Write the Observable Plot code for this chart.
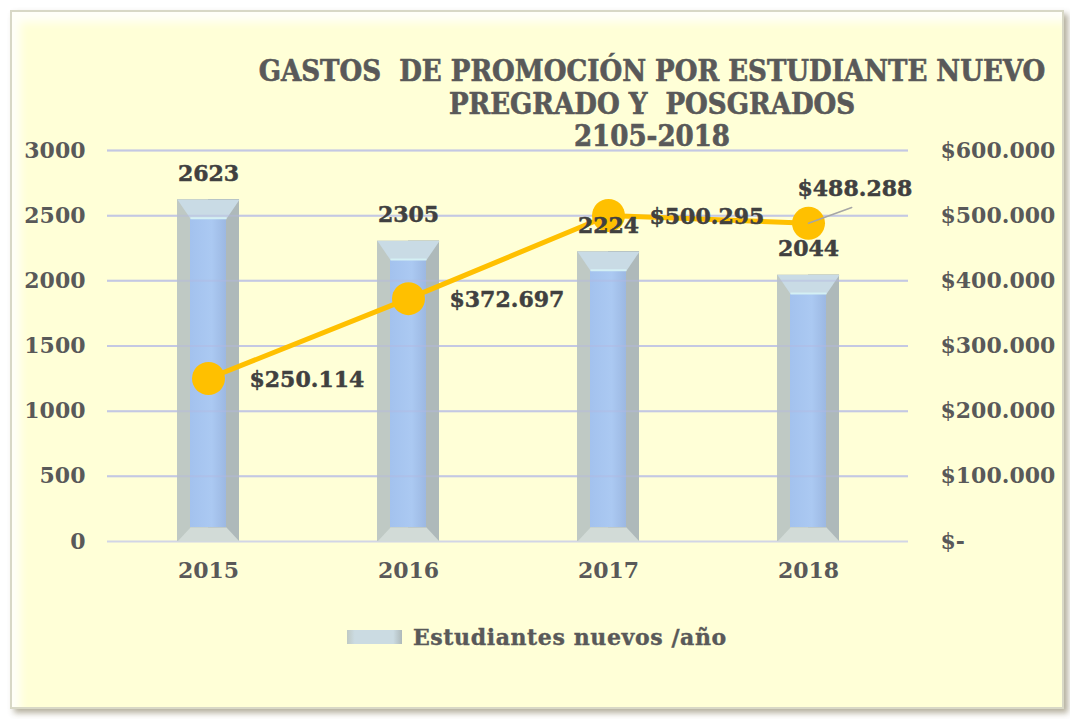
<!DOCTYPE html>
<html>
<head>
<meta charset="utf-8">
<script src="https://cdn.jsdelivr.net/npm/d3@7"></script>
<script src="https://cdn.jsdelivr.net/npm/@observablehq/plot@0.6"></script>
<style>
  html, body { margin: 0; padding: 0; background: #ffffff; }
  #page { position: relative; width: 1070px; height: 719px; overflow: hidden; }
  #frame {
    position: absolute; left: 10px; top: 10px; width: 1050px; height: 695px;
    background: #FFFFD7; border: 2px solid #D8D8C6;
    box-shadow: 4px 4px 6px rgba(90,80,40,0.45), inset 8px 10px 10px rgba(255,255,255,0.85);
  }
  #title {
    position: absolute; left: 252px; top: 55px; width: 800px; text-align: center;
    font-family: "DejaVu Serif Condensed", "DejaVu Serif", serif; font-stretch: condensed;
    font-weight: bold; font-size: 29px; line-height: 32.5px; color: #595959;
    -webkit-text-stroke: 0.6px #595959;
  }
  #chart { position: absolute; left: 0; top: 110px; }
  #legend-swatch {
    position: absolute; left: 347px; top: 630px; width: 55px; height: 14px;
    background: linear-gradient(to right, #BFC9C4 0, #CBDBE2 14%, #CBDBE2 84%, #AEB9BA 100%);
  }
  #legend-text {
    position: absolute; left: 413px; top: 625px;
    font-family: "DejaVu Serif", serif; font-weight: bold; font-size: 22px; line-height: 24px; color: #595959;
    letter-spacing: 0.6px; -webkit-text-stroke: 0.4px #595959;
  }
</style>
</head>
<body>
<div id="page">
  <div id="frame"></div>
  <div id="title">GASTOS&nbsp; DE PROMOCIÓN POR ESTUDIANTE NUEVO<br>PREGRADO Y&nbsp; POSGRADOS<br>2105-2018</div>
  <div id="chart"></div>
  <div id="legend-swatch"></div>
  <div id="legend-text">Estudiantes nuevos /año</div>
</div>
<script>
const years = ["2015", "2016", "2017", "2018"];
const students = [2623, 2305, 2224, 2044];
const costs = [250114, 372697, 500295, 488288];
const leftTicks = [0, 500, 1000, 1500, 2000, 2500, 3000];
const leftMax = 3000;
const rightMax = 600000;
const ratio = rightMax / leftMax;

const data = years.map((year, i) => ({
  year, students: students[i], cost: costs[i], costY: costs[i] / ratio
}));

const money = v => v === 0 ? "$-" : "$" + d3.format(",")(v).replace(/,/g, ".");

// decorative shapes (pixel geometry of the bevel, relative to the anchor point)
const leader = {
  draw(context, l) { context.moveTo(0, 0); context.lineTo(0, -l); }
};
const topBevel = {
  draw(c) { c.moveTo(-31, 0); c.lineTo(31, 0); c.lineTo(18, 19); c.lineTo(-18, 19); c.closePath(); }
};
const topEdge = {
  draw(c) { c.moveTo(-18, 18.5); c.lineTo(18, 18.5); }
};
const bottomBevel = {
  draw(c) { c.moveTo(-31, 0); c.lineTo(31, 0); c.lineTo(18, -14); c.lineTo(-18, -14); c.closePath(); }
};

const heavyLabel = {stroke: "#404040", strokeWidth: 0.5, paintOrder: "fill"};
const heavyAxis = {stroke: "#595959", strokeWidth: 0.5, paintOrder: "fill"};

const chart = Plot.plot({
  width: 1070, height: 490,
  marginTop: 40, marginBottom: 59, marginLeft: 107, marginRight: 162,
  style: {background: "transparent", fontFamily: "DejaVu Serif, serif", fontWeight: "bold", fontSize: "22px", color: "#595959", overflow: "visible"},
  x: {domain: years, paddingInner: 0.69, paddingOuter: 0.345, axis: null},
  y: {domain: [0, leftMax], axis: null},
  marks: [
    Plot.ruleY(leftTicks, {stroke: "#D2D5E6", strokeWidth: 2}),
    // beveled bars
    Plot.barY(data, {x: "year", y: "students", fill: "#BFC9C4"}),
    Plot.barY(data, {x: "year", y: "students", fill: "#AEB9BA", insetLeft: 31}),
    Plot.barY(data, {x: "year", y: "students", fill: "url(#faceGrad)", insetLeft: 13, insetRight: 13, insetTop: 19, insetBottom: 14}),
    Plot.vector(data, {x: "year", y: "students", length: 1, anchor: "start", shape: topBevel, fill: "#C9DBE5", stroke: "none"}),
    Plot.vector(data, {x: "year", y: "students", length: 1, anchor: "start", shape: topEdge, stroke: "#D4F0F4", strokeWidth: 2, strokeLinecap: "butt"}),
    Plot.vector(data, {x: "year", y: 0, length: 1, anchor: "start", shape: bottomBevel, fill: "#D2DBD7", stroke: "none"}),
    Plot.ruleY(leftTicks.slice(1), {stroke: "#B4B8E0", strokeWidth: 2, strokeOpacity: 0.45}),
    // cost line
    Plot.line(data, {x: "year", y: "costY", stroke: "#FFC000", strokeWidth: 5}),
    Plot.dot(data, {x: "year", y: "costY", r: 16.5, fill: "#FFC000", stroke: "none"}),
    Plot.vector(data.slice(3), {x: "year", y: "costY", length: 46, rotate: 70, anchor: "start", shape: leader, stroke: "#A6A6A6", strokeWidth: 1.5}),
    // labels
    Plot.text(data, {x: "year", y: "students", text: d => String(d.students), dy: -26, fill: "#404040", ...heavyLabel}),
    Plot.text(data.slice(0, 3), {x: "year", y: "costY", text: d => money(d.cost), textAnchor: "start", dx: 41, dy: 1, fill: "#404040", ...heavyLabel}),
    Plot.text(data.slice(3), {x: "year", y: "costY", text: d => money(d.cost), textAnchor: "start", dx: -11, dy: -34, fill: "#404040", ...heavyLabel}),
    // axes
    Plot.axisX({tickSize: 0, tickPadding: 21, fill: "#595959", label: null, ...heavyAxis}),
    Plot.axisY({anchor: "left", ticks: leftTicks, tickFormat: d => String(d), tickSize: 0, tickPadding: 22, fill: "#595959", label: null, ...heavyAxis}),
    Plot.axisY({anchor: "right", ticks: leftTicks, tickFormat: d => money(d * ratio), tickSize: 0, tickPadding: 32, fill: "#595959", label: null, ...heavyAxis})
  ]
});
d3.select(chart).insert("defs", ":first-child").html(
  '<linearGradient id="faceGrad" x1="0" x2="1" y1="0" y2="0">' +
  '<stop offset="0" stop-color="#A3C2EE"/><stop offset="0.6" stop-color="#ABC9F2"/><stop offset="1" stop-color="#9CB8E2"/>' +
  '</linearGradient>'
);
document.getElementById("chart").append(chart);
</script>
</body>
</html>
